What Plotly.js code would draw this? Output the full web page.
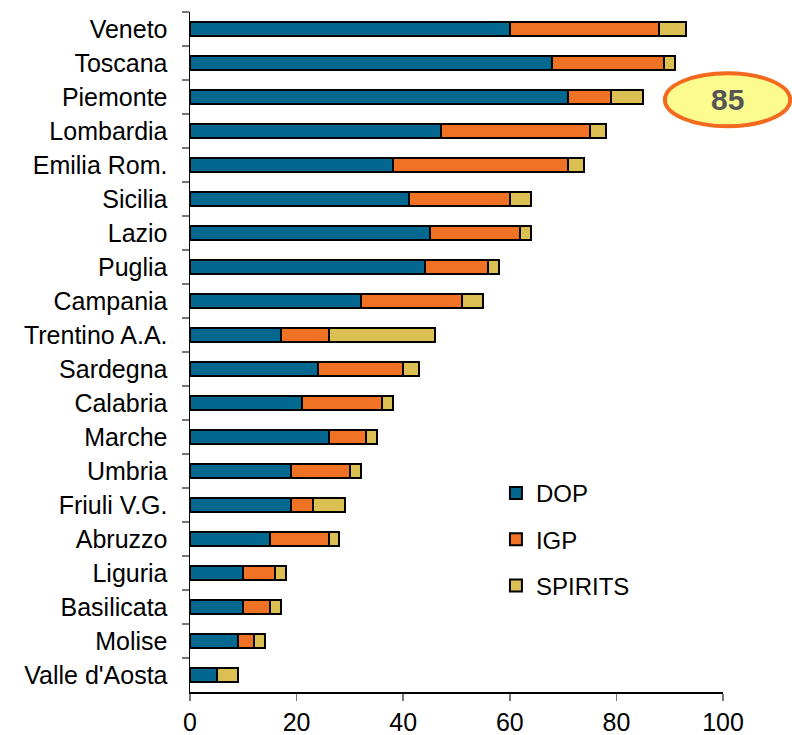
<!DOCTYPE html>
<html>
<head>
<meta charset="utf-8">
<script src="https://cdn.plot.ly/plotly-3.0.1.min.js"></script>
<style>html,body{margin:0;padding:0;background:#fff;}#chart{width:792px;height:735px;}</style>
</head>
<body>
<div id="chart"></div>
<script>
const regions = ["Veneto","Toscana","Piemonte","Lombardia","Emilia Rom.","Sicilia","Lazio","Puglia","Campania","Trentino A.A.","Sardegna","Calabria","Marche","Umbria","Friuli V.G.","Abruzzo","Liguria","Basilicata","Molise","Valle d'Aosta"];
const dop     = [60,68,71,47,38,41,45,44,32,17,24,21,26,19,19,15,10,10,9,5];
const igp     = [28,21,8,28,33,19,17,12,19,9,16,15,7,11,4,11,6,5,3,0];
const spirits = [5,2,6,3,3,4,2,2,4,20,3,2,2,2,6,2,2,2,2,4];
const seriesNames = ["DOP","IGP","SPIRITS"];
const seriesColors = ["#02688F","#F07325","#DCBF52"];
const xTicks = [0,20,40,60,80,100];
const callout = "85";

const FONT = "Liberation Sans, Arial, sans-serif";
const data = [dop, igp, spirits].map((vals, i) => ({
  type: "bar",
  orientation: "h",
  name: seriesNames[i],
  legendgroup: seriesNames[i],
  x: vals,
  y: regions,
  marker: {color: seriesColors[i], line: {color: "#000", width: 2}},
  hoverinfo: "x+y+name"
}));

const layout = {
  width: 792, height: 735,
  margin: {l: 190, r: 69, t: 12, b: 43},
  paper_bgcolor: "#fff", plot_bgcolor: "#fff",
  barmode: "stack",
  bargap: 0.56,
  font: {family: FONT, size: 25, color: "#000"},
  showlegend: true,
  legend: {
    x: 0.574, y: 0.325, xanchor: "left", yanchor: "top",
    traceorder: "grouped", tracegroupgap: 12,
    font: {family: FONT, size: 24, color: "#000"},
    bgcolor: "rgba(0,0,0,0)"
  },
  xaxis: {
    range: [0, 100], tickvals: xTicks, ticktext: xTicks.map(String),
    showgrid: false, zeroline: false,
    showline: true, linecolor: "#000", linewidth: 1.5,
    ticks: "outside", ticklen: 7, tickcolor: "#777", tickwidth: 1.5,
    tickfont: {family: FONT, size: 25, color: "#000"},
    fixedrange: true
  },
  yaxis: {
    type: "category", autorange: "reversed",
    showgrid: false, zeroline: false,
    showline: true, linecolor: "#000", linewidth: 1.5,
    ticks: "outside", tickson: "boundaries", ticklen: 7, tickcolor: "#777", tickwidth: 1.5,
    ticklabelstandoff: 16,
    tickfont: {family: FONT, size: 25, color: "#000"},
    fixedrange: true
  },
  shapes: [{
    type: "circle", xref: "paper", yref: "paper",
    x0: 0.891, x1: 1.126, y0: 0.832, y1: 0.910,
    fillcolor: "#FBFB8E", line: {color: "#F36A1F", width: 4},
    layer: "above"
  }],
  annotations: [{
    xref: "paper", yref: "paper", x: 1.008, y: 0.871,
    text: "<b>" + callout + "</b>", showarrow: false,
    font: {family: FONT, size: 30, color: "#555"},
    xanchor: "center", yanchor: "middle"
  }]
};

Plotly.newPlot("chart", data, layout, {displayModeBar: false, staticPlot: true});
</script>
</body>
</html>
